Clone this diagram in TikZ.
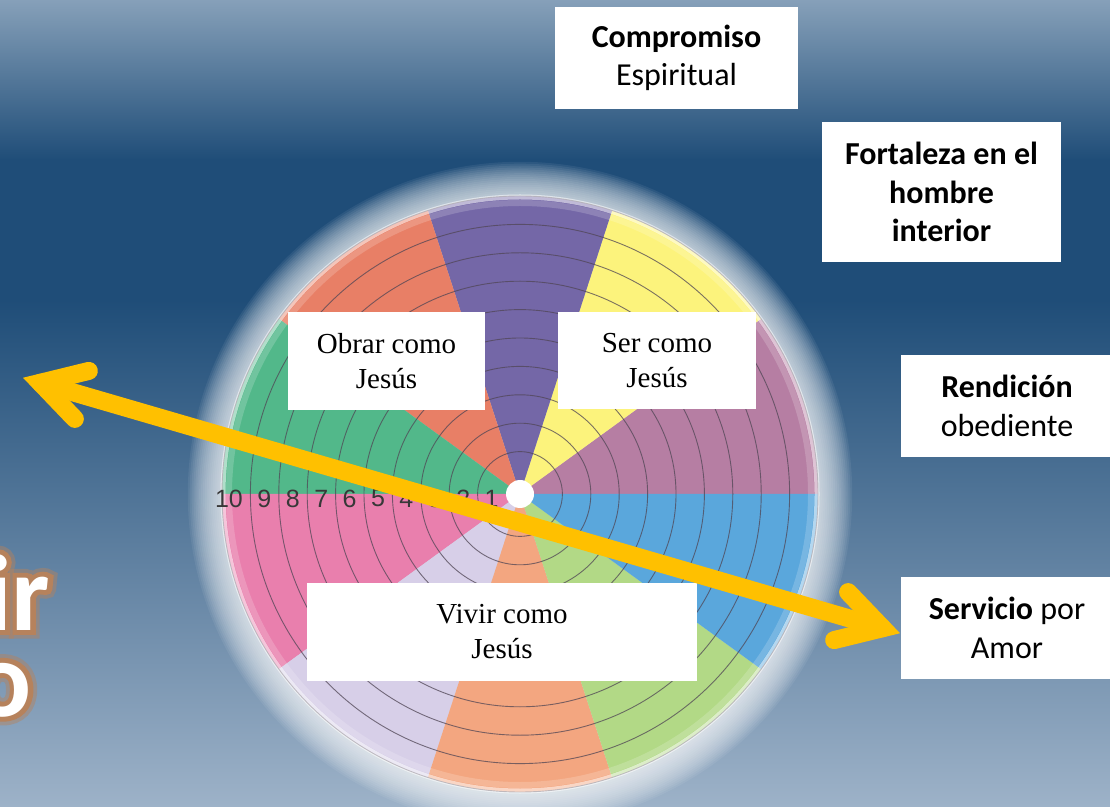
\documentclass[tikz,border=0pt]{standalone}
\usepackage{fontspec}
\setmainfont{Carlito}
\newfontfamily\timesf{Liberation Serif}
\newfontfamily\arialf{Liberation Sans}
\newfontfamily\glowA{Carlito}[BoldFeatures={FakeBold=16}]
\newfontfamily\glowB{Carlito}[BoldFeatures={FakeBold=9}]
\usetikzlibrary{calc}
\definecolor{bgtop}{RGB}{134,160,185}
\definecolor{bgdark}{RGB}{31,77,120}
\definecolor{bgbot}{RGB}{157,178,200}
\definecolor{wmauve}{RGB}{182,126,163}
\definecolor{wyellow}{RGB}{252,243,124}
\definecolor{wpurple}{RGB}{116,103,167}
\definecolor{wsalmon}{RGB}{232,127,102}
\definecolor{wgreen}{RGB}{82,184,138}
\definecolor{wpink}{RGB}{233,127,173}
\definecolor{wlav}{RGB}{215,207,232}
\definecolor{wpeach}{RGB}{243,166,128}
\definecolor{wlgreen}{RGB}{178,217,134}
\definecolor{wblue}{RGB}{90,167,220}
\definecolor{ringc}{RGB}{80,70,85}
\definecolor{arrowc}{RGB}{255,192,0}
\definecolor{glowc}{RGB}{182,130,92}
\tikzset{
  ringline/.style={draw=ringc, line width=0.9pt, opacity=0.75},
  numlbl/.style={font=\arialf\fontsize{25}{25}\selectfont, text=black!78, inner sep=0pt},
  wheelbox/.style={fill=white, inner sep=0pt, align=center, font=\timesf\fontsize{29}{35}\selectfont},
  sidebox/.style={fill=white, inner sep=0pt, align=center, font=\fontsize{32}{38.5}\selectfont},
  arrowline/.style={draw=arrowc, line width=18pt, line cap=round},
  bigtxt/.style={font=\bfseries\fontsize{108}{108}\selectfont, inner sep=0pt},
}
\begin{document}
\begin{tikzpicture}[x=1pt,y=1pt]
\useasboundingbox (0,0) rectangle (1110,806);
% background
\shade[top color=bgtop, bottom color=bgdark] (0,806) rectangle (1110,646);
\fill[bgdark] (0,646.5) rectangle (1110,505.5);
\shade[top color=bgdark, bottom color=bgbot] (0,506) rectangle (1110,0);
% big partial title text
\begin{scope}
\clip (0,0) rectangle (1110,806);
\coordinate (ipos) at (-15,176);
\coordinate (opos) at (32,90);
\node[bigtxt, anchor=base west, text=glowc, opacity=0.45] (irA) at (ipos) {\glowA\bfseries ir};
\node[bigtxt, anchor=base east, text=glowc, opacity=0.45] (oA) at (opos) {\glowA\bfseries o};
\node[bigtxt, anchor=base west, text=glowc] (irB) at (ipos) {\glowB\bfseries ir};
\node[bigtxt, anchor=base east, text=glowc] (oB) at (opos) {\glowB\bfseries o};
\node[bigtxt, anchor=base west, text=white] (ir) at (ipos) {ir};
\node[bigtxt, anchor=base east, text=white] (o) at (opos) {o};
\end{scope}
% wheel glow
\coordinate (C) at (520,312);
\foreach \i in {1,...,18}{
  \fill[white, opacity=0.065] (C) circle[radius={298+1.9*\i}];
}
% wheel sectors
\foreach \a/\c in {0/wmauve,36/wyellow,72/wpurple,108/wsalmon,144/wgreen,180/wpink,216/wlav,252/wpeach,288/wlgreen,324/wblue}{
  \fill[\c] (C) -- ++(\a:298) arc[start angle=\a, end angle=\a+36, radius=298] -- cycle;
}
\foreach \k in {1,...,10}{
  \draw[ringline] (C) circle[radius={14+28.4*\k}];
}
\draw[white, line width=5pt, opacity=0.55] (C) circle[radius=297];
\draw[white, line width=6pt, opacity=0.18] (C) circle[radius=291];
\fill[white] (C) circle[radius=14];
% numbers
\foreach \k in {1,...,9}{
  \node[numlbl] (n\k) at ({520-28.4*\k},307.5) {\k};
}
\node[numlbl] (n10) at (229,307.5) {10};
% wheel boxes
\node[wheelbox, minimum width=197pt, minimum height=98pt] (obrar) at (386.5,445) {Obrar como\\Jesús};
\node[wheelbox, minimum width=198pt, minimum height=97pt] (ser) at (657,445.5) {Ser como\\Jesús};
\node[wheelbox, minimum width=390pt, minimum height=97pt] (vivir) at (502,174) {Vivir como\\Jesús};
% side boxes
\node[sidebox, minimum width=243pt, minimum height=102pt] (comp) at (676.5,748) {\textbf{Compromiso}\\Espiritual};
\node[sidebox, minimum width=239pt, minimum height=140pt] (fort) at (941.5,614) {\textbf{Fortaleza en el}\\\textbf{hombre}\\\textbf{interior}};
\node[sidebox, minimum width=212pt, minimum height=102pt] (rend) at (1007,400) {\textbf{Rendición}\\obediente};
\node[sidebox, minimum width=212pt, minimum height=102pt] (serv) at (1007,178) {\textbf{Servicio} por\\Amor};
% arrow
\coordinate (L) at (40.3,423.2);
\coordinate (R) at (882.7,177.8);
\draw[arrowline] (L) -- (R);
\draw[arrowline, line join=miter] ($(L)!50pt!30:(R)$) -- (L) -- ($(L)!50pt!-30:(R)$);
\draw[arrowline, line join=miter] ($(R)!50pt!30:(L)$) -- (R) -- ($(R)!50pt!-30:(L)$);
\end{tikzpicture}
\end{document}
